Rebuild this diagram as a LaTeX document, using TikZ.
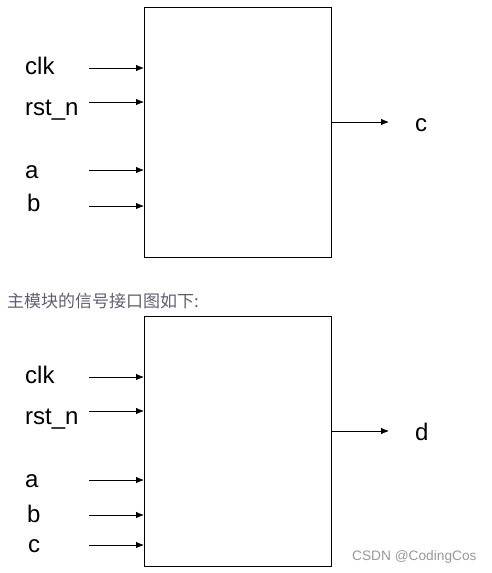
\documentclass[tikz,border=0pt]{standalone}
\usepackage{fontspec}
\setmainfont{Liberation Sans}
\newfontfamily\cjk{Noto Sans CJK SC}
\usetikzlibrary{positioning,calc,arrows.meta}
\definecolor{capgray}{RGB}{95,95,115}

\begin{document}
\begin{tikzpicture}[
	x=1pt, y=-1pt,
	blk/.style={
		draw=black,            % khung module
		line width=1pt,
		minimum width=187pt,
		minimum height=250pt,
		anchor=north west,
		inner sep=0pt
	},
	sig/.style={               % ten tin hieu
		font=\fontsize{24}{24}\selectfont,
		anchor=base west,
		inner sep=0pt
	},
	port/.style={              % mui ten vao/ra
		-{Latex[length=8pt,width=6.5pt]},
		line width=0.8pt
	}
	]
	\useasboundingbox (0,0) rectangle (492,573);
	
	% --- MODULE 1 ---
	\node[blk] (m1) at (144,7) {};
	% ten/nhan/y mui ten/y chu/x chu
	\foreach \name/\lbl/\yy/\ty/\tx in {clk/clk/68/74/25, rst/rst\_n/102/115/25, a/a/170/178/25, b/b/206/211/27} {
		\node[sig] (m1-\name) at (\tx,\ty) {\lbl};
		\coordinate (m1-\name-in) at (89,\yy);
		\draw[port] (m1-\name-in) -- (m1-\name-in -| m1.west);
	}
	% Dau ra c
	\coordinate (m1-out) at (389,122);
	\draw[port] (m1-out -| m1.east) -- (m1-out);
	\node[sig] (m1-c) at (415,131) {c};
	
	% --- CHU THICH ---
	\node[anchor=base west, inner sep=0pt, text=capgray, font=\cjk\fontsize{17}{17}\selectfont] (cap) at (7,307) {主模块的信号接口图如下:};
	
	% --- MODULE 2 ---
	\node[blk] (m2) at (144,316) {};
	\foreach \name/\lbl/\yy/\ty/\tx in {clk/clk/377/383/25, rst/rst\_n/411/424/25, a/a/480/487/25, b/b/515/522/27, c/c/545/552/28} {
		\node[sig] (m2-\name) at (\tx,\ty) {\lbl};
		\coordinate (m2-\name-in) at (89,\yy);
		\draw[port] (m2-\name-in) -- (m2-\name-in -| m2.west);
	}
	% Dau ra d
	\coordinate (m2-out) at (389,431);
	\draw[port] (m2-out -| m2.east) -- (m2-out);
	\node[sig] (m2-d) at (415,440) {d};
	
	% --- WATERMARK ---
	\node[anchor=west, inner sep=0pt, text=black!40, font=\fontsize{13.7}{13.7}\selectfont] (wm) at (352,557) {CSDN @CodingCos};
	
\end{tikzpicture}
\end{document}
